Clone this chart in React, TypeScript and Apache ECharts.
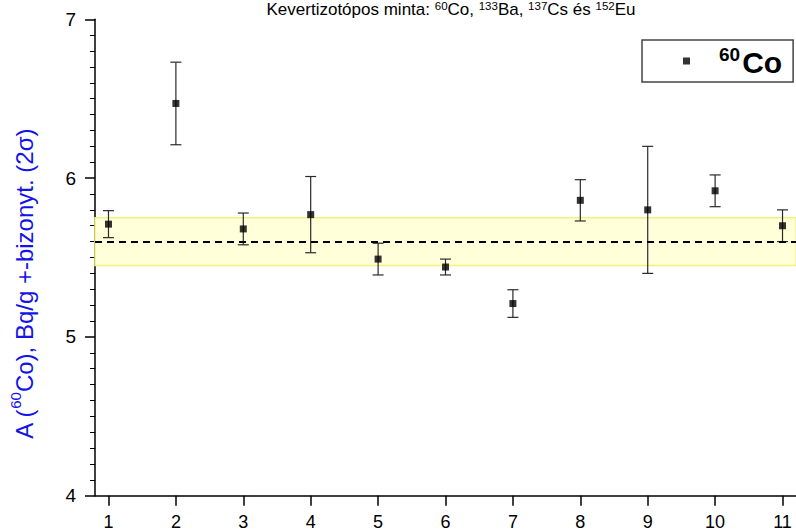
import React, { useEffect, useRef } from "react";
import * as echarts from "echarts";

// Measurement index (x axis)
const sampleIds: number[] = [1, 2, 3, 4, 5, 6, 7, 8, 9, 10, 11];
// Activity A(60Co), Bq/g
const activity: number[] = [5.71, 6.47, 5.68, 5.77, 5.49, 5.44, 5.21, 5.86, 5.80, 5.92, 5.70];
// Uncertainty (2 sigma), +-
const uncertainty: number[] = [0.085, 0.26, 0.10, 0.24, 0.10, 0.05, 0.087, 0.13, 0.40, 0.10, 0.10];
// Reference value and its band
const refValue = 5.6;
const refLow = 5.45;
const refHigh = 5.75;
// Y tick labels
const yTicks: number[] = [4, 5, 6, 7];

const FONT = "'Liberation Sans', Arial, sans-serif";

export default function App() {
  const ref = useRef<HTMLDivElement>(null);

  useEffect(() => {
    if (!ref.current) return;
    const chart = echarts.init(ref.current, null, { renderer: "svg" });

    const points = sampleIds.map((x, i) => [x, activity[i]]);
    const bars = sampleIds.map((x, i) => [x, activity[i] - uncertainty[i], activity[i] + uncertainty[i]]);

    chart.setOption({
      animation: false,
      backgroundColor: "#ffffff",
      textStyle: { fontFamily: FONT },
      grid: { left: 95, right: 0, top: 19.3, bottom: 35.3 },
      xAxis: {
        type: "value",
        min: 0.8,
        max: 11.2,
        splitLine: { show: false },
        axisLine: { show: true, onZero: false, lineStyle: { color: "#000", width: 1.5 } },
        axisTick: { show: true, length: 10, lineStyle: { color: "#000", width: 1.5 }, customValues: sampleIds },
        axisLabel: { customValues: sampleIds, color: "#000", fontSize: 18, fontFamily: FONT, margin: 17 },
      },
      yAxis: {
        type: "value",
        min: yTicks[0],
        max: yTicks[yTicks.length - 1],
        interval: 1,
        splitLine: { show: false },
        axisLine: { show: true, onZero: false, lineStyle: { color: "#000", width: 1.5 } },
        axisTick: { show: true, length: 10, lineStyle: { color: "#000", width: 1.5 } },
        minorTick: { show: true, splitNumber: 10, length: 5, lineStyle: { color: "#000", width: 1 } },
        axisLabel: { color: "#000", fontSize: 19, fontFamily: FONT, margin: 19 },
      },
      legend: {
        data: ["60Co"],
        left: 642,
        top: 40,
        orient: "vertical",
        itemWidth: 7,
        itemHeight: 7,
        padding: [5, 11, 5, 41],
        borderColor: "#444",
        borderWidth: 1.5,
        backgroundColor: "#fff",
        formatter: () => "{s|60}{c|Co}",
        textStyle: {
          rich: {
            s: { fontSize: 19, fontWeight: "bold", fontFamily: FONT, color: "#000", lineHeight: 19, verticalAlign: "top", padding: [0, 2, 0, 24] },
            c: { fontSize: 30, fontWeight: "bold", fontFamily: FONT, color: "#000", lineHeight: 32, verticalAlign: "bottom" },
          },
        },
      },
      graphic: [
        {
          type: "text",
          x: 451,
          y: 9,
          style: {
            text: "{n|Kevertizotópos minta: }{s|60}{n|Co, }{s|133}{n|Ba, }{s|137}{n|Cs és }{s|152}{n|Eu}",
            align: "center",
            verticalAlign: "middle",
            rich: {
              n: { fontSize: 17, fontFamily: FONT, fill: "#000", lineHeight: 18, verticalAlign: "bottom" },
              s: { fontSize: 11.5, fontFamily: FONT, fill: "#000", lineHeight: 10, verticalAlign: "top" },
            },
          },
        },
        {
          type: "text",
          x: 22,
          y: 284,
          rotation: Math.PI / 2,
          style: {
            text: "{n|A (}{s|60}{n|Co), Bq/g +-bizonyt. (2σ)}",
            align: "center",
            verticalAlign: "middle",
            rich: {
              n: { fontSize: 24, fontFamily: FONT, fill: "#1414e6", lineHeight: 28, verticalAlign: "bottom" },
              s: { fontSize: 15, fontFamily: FONT, fill: "#1414e6", lineHeight: 14, verticalAlign: "top" },
            },
          },
        },
      ],
      series: [
        {
          name: "ref",
          type: "line",
          data: [],
          z: 1,
          silent: true,
          markArea: {
            silent: true,
            itemStyle: { color: "#ffffd9", borderColor: "#f2f27a", borderWidth: 1.5 },
            data: [[{ yAxis: refLow }, { yAxis: refHigh }]],
          },
          markLine: {
            silent: true,
            symbol: "none",
            label: { show: false },
            lineStyle: { color: "#000", width: 2, type: [7, 5] },
            data: [{ yAxis: refValue }],
          },
        },
        {
          name: "err",
          type: "custom",
          z: 4,
          silent: true,
          data: bars,
          encode: { x: 0, y: [1, 2] },
          renderItem: (params: any, api: any) => {
            const x = api.value(0);
            const lo = api.coord([x, api.value(1)]);
            const hi = api.coord([x, api.value(2)]);
            const cw = 5.5;
            const st = { stroke: "#2a2a2a", lineWidth: 1.2 };
            return {
              type: "group",
              children: [
                { type: "line", shape: { x1: hi[0], y1: hi[1], x2: lo[0], y2: lo[1] }, style: st },
                { type: "line", shape: { x1: hi[0] - cw, y1: hi[1], x2: hi[0] + cw, y2: hi[1] }, style: st },
                { type: "line", shape: { x1: lo[0] - cw, y1: lo[1], x2: lo[0] + cw, y2: lo[1] }, style: st },
              ],
            };
          },
        },
        {
          name: "60Co",
          type: "scatter",
          z: 5,
          symbol: "rect",
          symbolSize: 7,
          itemStyle: { color: "#000" },
          data: points,
        },
      ],
    });

    return () => chart.dispose();
  }, []);

  return <div ref={ref} style={{ position: "absolute", left: 0, top: 0, width: 796, height: 531 }} />;
}
